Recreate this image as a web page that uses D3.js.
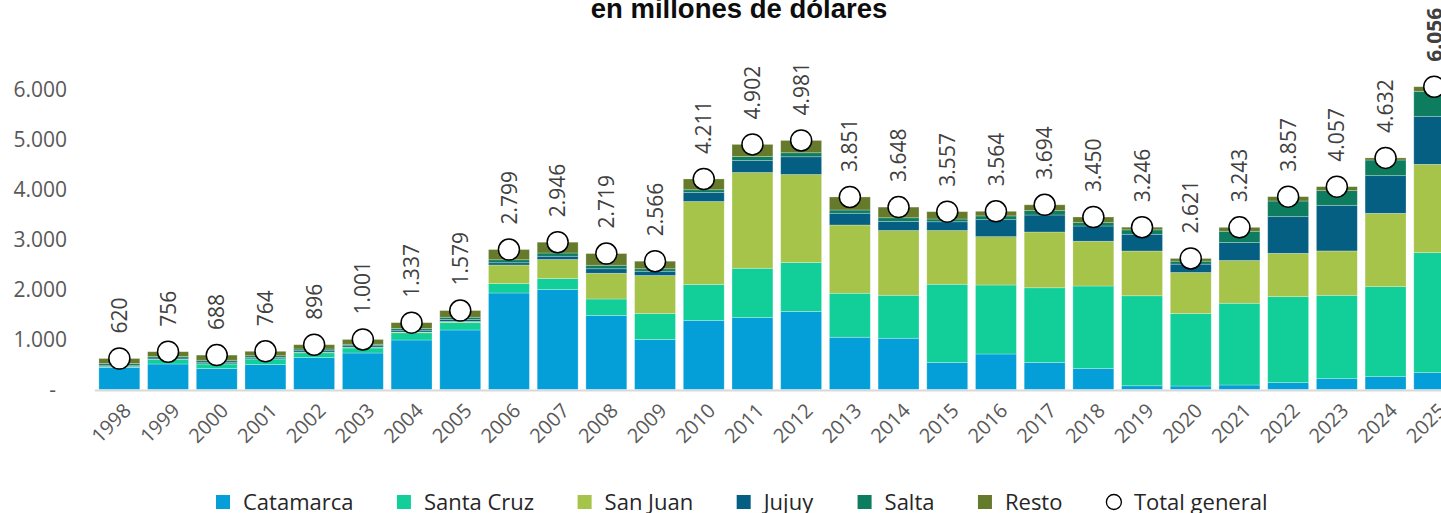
<!DOCTYPE html>
<html>
<head>
<meta charset="utf-8">
<script src="https://cdn.jsdelivr.net/npm/d3@7"></script>
<style>
  body { margin: 0; background: #fff; }
  svg { display: block; }
</style>
</head>
<body>
<svg id="chart"></svg>
<script>
// data (millones de dólares)
const years = ["1998","1999","2000","2001","2002","2003","2004","2005","2006","2007","2008","2009","2010","2011","2012","2013","2014","2015","2016","2017","2018","2019","2020","2021","2022","2023","2024","2025"];
const catamarca = [440,510,420,500,640,730,990,1190,1930,2000,1480,1000,1380,1440,1560,1045,1025,540,710,540,420,75,70,90,137,217,257,337];
const santaCruz = [15,90,90,110,95,100,145,150,190,220,330,520,720,985,980,880,860,1565,1380,1495,1650,1800,1450,1635,1720,1667,1800,2400];
const sanJuan = [5,5,5,5,10,15,15,20,370,380,515,760,1660,1915,1760,1365,1295,1075,967,1115,895,895,820,855,867,887,1467,1767];
const jujuy = [25,25,30,25,30,30,35,40,45,65,90,85,180,240,355,235,180,175,340,340,305,335,167,360,733,913,753,960];
const salta = [35,30,40,35,35,30,35,45,60,65,70,50,55,80,80,65,75,55,75,87,67,88,60,225,313,293,313,500];
const resto = [100,96,103,89,86,96,117,134,204,216,234,151,216,242,246,261,213,147,92,117,113,53,54,78,87,80,42,92];
const totalGeneral = [620,756,688,764,896,1001,1337,1579,2799,2946,2719,2566,4211,4902,4981,3851,3648,3557,3564,3694,3450,3246,2621,3243,3857,4057,4632,6056];
const yTicks = [0,1000,2000,3000,4000,5000,6000];

const seriesNames = ["Catamarca","Santa Cruz","San Juan","Jujuy","Salta","Resto"];
const seriesValues = [catamarca, santaCruz, sanJuan, jujuy, salta, resto];
const colors = ["#049fd9","#12cf9a","#a6c34a","#045f83","#0e7c5f","#667a2b"];

const width = 1441;
const height = 513;
const font = "'Open Sans', sans-serif";

const locale = d3.formatLocale({ decimal: ",", thousands: ".", grouping: [3], currency: ["$", ""] });
const fmt = locale.format(",d");

const table = years.map(function (y, i) {
    const row = { year: y, total: totalGeneral[i] };
    seriesNames.forEach(function (s, k) { row[s] = seriesValues[k][i]; });
    return row;
});

const svg = d3.select("#chart").attr("width", width).attr("height", height);

const x = d3.scaleBand()
    .domain(years)
    .range([95, 95 + 28 * 48.7])
    .paddingInner(0.16)
    .paddingOuter(0.08);

const y = d3.scaleLinear()
    .domain([0, 6000])
    .range([389.5, 89.5]);

// title (its first line is cut off in the original)
svg.append("text")
    .attr("x", 739)
    .attr("y", 18)
    .attr("text-anchor", "middle")
    .attr("font-family", "'Liberation Sans', Arial, sans-serif")
    .attr("font-weight", "bold")
    .attr("font-size", "27.5px")
    .attr("fill", "#0d0d0d")
    .text("en millones de dólares");

// y axis labels
svg.append("g").attr("class", "yticks")
    .selectAll("text")
    .data(yTicks)
    .enter()
    .append("text")
    .attr("x", function (d) { return d === 0 ? 56 : 67; })
    .attr("y", function (d) { return y(d); })
    .attr("dy", "0.35em")
    .attr("text-anchor", "end")
    .attr("font-family", font)
    .attr("font-size", "21px")
    .attr("fill", "#595959")
    .text(function (d) { return d === 0 ? "-" : fmt(d); });

// stacked bars
const stacked = d3.stack().keys(seriesNames)(table);

const layers = svg.append("g").attr("class", "bars")
    .selectAll("g")
    .data(stacked)
    .enter()
    .append("g")
    .attr("fill", function (d, i) { return colors[i]; });

layers.selectAll("rect")
    .data(function (d) { return d; })
    .enter()
    .append("rect")
    .attr("x", function (d) { return x(d.data.year); })
    .attr("width", x.bandwidth())
    .attr("y", function (d) { return y(d[1]); })
    .attr("height", function (d) { return Math.max(0, y(d[0]) - y(d[1])); })
    .attr("stroke", "#ffffff")
    .attr("stroke-opacity", 0.35)
    .attr("stroke-width", 0.75);

// x axis line
svg.append("line")
    .attr("x1", 95)
    .attr("x2", width)
    .attr("y1", 390.5)
    .attr("y2", 390.5)
    .attr("stroke", "#d9d9d9")
    .attr("stroke-width", 2);

// x labels
svg.append("g").attr("class", "xticks")
    .selectAll("text")
    .data(years)
    .enter()
    .append("text")
    .attr("transform", function (d) {
        return "translate(" + (x(d) + x.bandwidth() / 2 + 8) + ",407) rotate(-45)";
    })
    .attr("text-anchor", "end")
    .attr("dy", "0.35em")
    .attr("font-family", font)
    .attr("font-size", "20px")
    .attr("fill", "#595959")
    .text(function (d) { return d; });

// total markers
svg.append("g").attr("class", "totals")
    .selectAll("circle")
    .data(table)
    .enter()
    .append("circle")
    .attr("cx", function (d) { return x(d.year) + x.bandwidth() / 2; })
    .attr("cy", function (d) { return y(d.total); })
    .attr("r", 10.5)
    .attr("fill", "#ffffff")
    .attr("stroke", "#000000")
    .attr("stroke-width", 1.5);

svg.append("g").attr("class", "total-labels")
    .selectAll("text")
    .data(table)
    .enter()
    .append("text")
    .attr("transform", function (d) {
        return "translate(" + (x(d.year) + x.bandwidth() / 2) + "," + (y(d.total) - 25) + ") rotate(-90)";
    })
    .attr("dy", "0.36em")
    .attr("text-anchor", "start")
    .attr("font-family", font)
    .attr("font-size", "21px")
    .attr("font-weight", function (d, i) { return i === table.length - 1 ? "bold" : "normal"; })
    .attr("fill", "#404040")
    .text(function (d) { return fmt(d.total); });

// legend, laid out left to right and centred
const legendItems = seriesNames.concat(["Total general"]);
const legend = svg.append("g").attr("class", "legend");

const items = legend.selectAll("g")
    .data(legendItems)
    .enter()
    .append("g");

items.filter(function (d, i) { return i < seriesNames.length; })
    .append("rect")
    .attr("x", 0)
    .attr("y", -7)
    .attr("width", 14)
    .attr("height", 14)
    .attr("fill", function (d, i) { return colors[i]; });

items.filter(function (d, i) { return i === seriesNames.length; })
    .append("circle")
    .attr("cx", 8)
    .attr("cy", 0)
    .attr("r", 7.5)
    .attr("fill", "#ffffff")
    .attr("stroke", "#000000")
    .attr("stroke-width", 1.3);

items.append("text")
    .attr("x", function (d, i) { return i === seriesNames.length ? 28 : 27; })
    .attr("y", 0)
    .attr("dy", "0.35em")
    .attr("font-family", font)
    .attr("font-size", "22px")
    .attr("fill", "#262626")
    .text(function (d) { return d; });

const legendLeft = 216;
const legendRight = 1267;
const itemWidths = [];
items.each(function () { itemWidths.push(this.getBBox().width); });
const gap = (legendRight - legendLeft - d3.sum(itemWidths)) / (itemWidths.length - 1);
let cursor = legendLeft;
items.attr("transform", function (d, i) {
    const t = "translate(" + cursor + ",502)";
    cursor += itemWidths[i] + gap;
    return t;
});
</script>
</body>
</html>
